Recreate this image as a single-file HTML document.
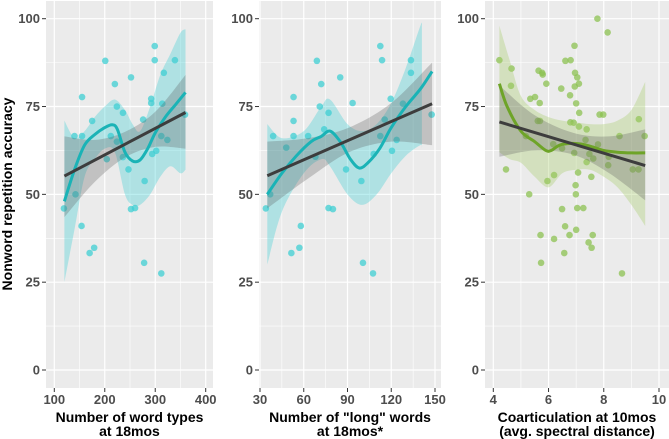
<!DOCTYPE html>
<html><head><meta charset="utf-8"><style>
html,body{margin:0;padding:0;background:#fff;}
svg{display:block;font-family:"Liberation Sans",Arial,sans-serif;}
.tick{font-size:13px;font-weight:bold;fill:#4d4d4d;}
.ttl{font-size:14px;font-weight:bold;fill:#000;}
</style></head><body>
<svg id="chart" width="669" height="439" viewBox="0 0 669 439" xmlns="http://www.w3.org/2000/svg"></svg>
<script>
// ---- Data ----
const yTicks=[0,25,50,75,100];
const p1Ticks=[100,200,300,400];
const p2Ticks=[30,60,90,120,150];
const p3Ticks=[4,6,8,10];
const p1X=[119,142,140,155,155,154,170,179,175,201,204,212,220,224,224,236,236,247,252,252,260,276,278,279,292,292,294,299,299,302,312,312,314,317,324,339,359];
const p1Y=[46,50,66.6,66.6,77.7,41,33.3,34.8,70.9,88,60,66.6,81.4,75,65,73.2,60.6,57.1,83.3,45.8,46.1,71.3,30.5,53.8,77.2,76,61.5,92.2,88.2,62.4,66.6,27.5,75.8,84.6,65.5,88.2,72.7];
const p2X=[34,37,39,48,51.5,53,53,53,57,58,63,68,69,71,72,74,77,77,80,85,89,93.5,99.5,100.6,107.5,108,112.5,112.5,113.7,115.5,119.6,120.5,123.7,128,133.5,133.5,147.7];
const p2Y=[46,50,66.6,63.3,33.3,70.9,77.7,66.6,34.8,41,66.6,60.7,88,75,81.4,68.5,73.2,46.1,45.8,83.3,57.1,76,53.8,30.5,27.5,61.5,92.2,66.6,88.2,71.3,77.2,62.4,65.5,75.8,84.6,88.2,72.7];
const p3X=[4.22,4.46,4.66,4.64,5.18,5.30,5.34,5.51,5.61,5.64,5.68,5.69,5.71,5.73,5.77,5.79,5.92,5.96,6.17,6.20,6.20,6.46,6.49,6.49,6.57,6.60,6.61,6.76,6.78,6.79,6.80,6.91,6.93,6.94,6.96,6.95,6.98,6.99,7.00,7.00,7.04,7.04,7.07,7.10,7.11,7.10,7.26,7.34,7.38,7.38,7.45,7.48,7.55,7.56,7.60,7.62,7.77,7.79,7.85,7.98,8.14,8.18,8.16,8.57,8.66,9.05,9.26,9.27,9.48];
const p3Y=[88.2,57.1,85.8,80.9,66.6,50,77.2,77.7,70.9,85.2,76,70.9,38.4,30.5,84.6,84.1,81.5,53.8,64.3,55.5,37.3,80.1,63.1,45.8,33.3,40.9,88,38.4,78.2,70.5,88.2,70.4,61.8,92.3,84.6,80.7,52.6,50,39.9,75.9,46.1,83.3,56.2,81.5,73.2,69.3,46.1,65.5,59.2,68.5,36.3,61.5,55,34.8,38.4,60.2,100,64.2,72.7,72.7,96.1,60.7,58.3,66.6,27.5,57.1,57.1,71.4,66.6];
// loess fits
const s1X=[120,140,160,180,200,215,225,240,255,270,285,300,320,340,360];
const s1Y=[48,57,64,67,69,69.8,68.5,62,59.5,59.8,63,67.5,72,75.5,79];
const b1X=[120,140,160,180,200,220,240,255,270,290,310,330,350,360];
const b1Hi=[71,66,68,72,75,77,74,70,68,75,84,90,96,97];
const b1Lo=[25,40,55,60,63,62,50,47,47,50,55,58,56,57];
const s2X=[35,45,55,65,72,78,85,92,98,104,112,120,130,140,148];
const s2Y=[50,56,61,65,66.5,68,65,60,57.5,59,63,69,75,80,85];
const b2X=[35,45,60,72,78,90,100,110,120,130,140,141];
const b2Hi=[70,66,68,75,77,70,68,70,76,86,98,98];
const b2Lo=[30,45,56,60,58,50,47,50,56,61,64,63];
const s3X=[4.22,4.5,5,5.5,5.9,6.1,6.4,6.8,7.2,7.6,8,8.5,9,9.5];
const s3Y=[81.5,75,68,65,62.5,62.5,64,64.5,64.3,63.5,62.5,62,61.8,61.8];
const b3X=[4.22,4.6,5,5.5,6,6.5,7,7.5,8,8.5,9,9.5];
const b3Hi=[98,88,78,74,72,71,70.5,70,70,71,74,82];
const b3Lo=[62,60,59,55,52,56,57,57,55,52,47,41];
// linear fits: x at start/mid/end, fitted y and CI
const l1X=[120,180,240,300,360], l1Y=[55.2,59.7,64.2,68.8,73.3], l1Lo=[43.5,53.5,60.5,63.5,63], l1Hi=[66.5,65.5,67.8,73.5,84];
const l2X=[35,63,91,120,148], l2Y=[55.3,60.4,65.5,70.7,75.8], l2Lo=[46,54.5,62,65,64], l2Hi=[65,66,69,76,87.5];
const l3X=[4.22,5.5,6.9,8.2,9.5], l3Y=[70.6,67.6,64.4,61.3,58.2], l3Lo=[60.7,62.5,61.3,56,48.3], l3Hi=[81,72.5,67.5,66.5,68.5];

const NS="http://www.w3.org/2000/svg";
const svg=document.getElementById('chart');
function mk(tag,attrs,parent){const e=document.createElementNS(NS,tag);for(const k in attrs)e.setAttribute(k,attrs[k]);(parent||svg).appendChild(e);return e;}
const Y=v=>370+(18.7-370)*v/100;
function smooth(pts,start){ // catmull-rom to bezier
  let d=(start?'M':'L')+pts[0][0]+','+pts[0][1];
  for(let i=0;i<pts.length-1;i++){
    const p0=pts[i-1]||pts[i],p1=pts[i],p2=pts[i+1],p3=pts[i+2]||p2;
    const c1=[p1[0]+(p2[0]-p0[0])/6,p1[1]+(p2[1]-p0[1])/6];
    const c2=[p2[0]-(p3[0]-p1[0])/6,p2[1]-(p3[1]-p1[1])/6];
    d+='C'+c1+' '+c2+' '+p2;
  }
  return d;
}
function panel(cfg){
  const g=mk('g',{});
  
  
  const X=v=>cfg.px0+(v-cfg.t0)*(cfg.px1-cfg.px0)/(cfg.t1-cfg.t0);
  const bg=mk('rect',{x:cfg.L,y:1,width:cfg.R-cfg.L,height:387,fill:'#ebebeb'},g);
  
  for(let i=0;i<yTicks.length-1;i++){const v=(yTicks[i]+yTicks[i+1])/2;mk('line',{x1:cfg.L,x2:cfg.R,y1:Y(v),y2:Y(v),stroke:'#fff','stroke-width':0.6},g);}
  for(let i=0;i<cfg.ticks.length-1;i++){const v=(cfg.ticks[i]+cfg.ticks[i+1])/2;mk('line',{x1:X(v),x2:X(v),y1:1,y2:388,stroke:'#fff','stroke-width':0.6},g);}
  yTicks.forEach(v=>{mk('line',{x1:cfg.L,x2:cfg.R,y1:Y(v),y2:Y(v),stroke:'#fff','stroke-width':1.2},g);
    mk('line',{x1:cfg.L-4,x2:cfg.L,y1:Y(v),y2:Y(v),stroke:'#333','stroke-width':1},g);
    const t=mk('text',{x:cfg.L-6,y:Y(v)+4.5,'text-anchor':'end',class:'tick'},g);t.textContent=v;
    });
  cfg.ticks.forEach(v=>{mk('line',{x1:X(v),x2:X(v),y1:1,y2:388,stroke:'#fff','stroke-width':1.2},g);
    mk('line',{x1:X(v),x2:X(v),y1:388,y2:392,stroke:'#333','stroke-width':1},g);
    const t=mk('text',{x:X(v),y:404,'text-anchor':'middle',class:'tick'},g);t.textContent=v;
    });
  cfg.xs.forEach((x,i)=>{const c=mk('circle',{cx:X(x),cy:Y(cfg.ys[i]),r:3.3,fill:cfg.pt,'fill-opacity':0.75},g);
    });
  const hi=cfg.bX.map((x,i)=>[X(x),Y(cfg.bHi[i])]);
  const lo=cfg.bX.map((x,i)=>[X(x),Y(cfg.bLo[i])]).reverse();
  const band=mk('path',{d:smooth(hi,true)+smooth(lo,false)+'Z',fill:cfg.band,'fill-opacity':0.35},g);
  
  const lhi=cfg.lX.map((x,i)=>[X(x),Y(cfg.lHi[i])]);
  const llo=cfg.lX.map((x,i)=>[X(x),Y(cfg.lLo[i])]).reverse();
  const lb=mk('path',{d:smooth(lhi,true)+smooth(llo,false)+'Z',fill:'#555','fill-opacity':0.28},g);
  
  const sl=mk('path',{d:smooth(cfg.sX.map((x,i)=>[X(x),Y(cfg.sY[i])]),true),fill:'none',stroke:cfg.line,'stroke-width':3,'stroke-linejoin':'round'},g);
  
  const n=cfg.lX.length-1;
  const ll=mk('line',{x1:X(cfg.lX[0]),y1:Y(cfg.lY[0]),x2:X(cfg.lX[n]),y2:Y(cfg.lY[n]),stroke:'#3d3d3d','stroke-width':3},g);
  
  cfg.title.forEach((s,i)=>{const t=mk('text',{x:(cfg.L+cfg.R)/2,y:422+i*14,'text-anchor':'middle',class:'ttl'},g);t.textContent=s;
    });
}
panel({name:'panel-word-types',L:46,R:213,px0:54.3,px1:205.7,t0:100,t1:400,ticks:p1Ticks,xs:p1X,ys:p1Y,pt:'#3fcfd3',band:'#3fcfd3',line:'#1ab3b6',
  bX:b1X,bHi:b1Hi,bLo:b1Lo,sX:s1X,sY:s1Y,lX:l1X,lY:l1Y,lLo:l1Lo,lHi:l1Hi,title:['Number of word types','at 18mos']});
panel({name:'panel-long-words',L:259,R:441,px0:260,px1:435,t0:30,t1:150,ticks:p2Ticks,xs:p2X,ys:p2Y,pt:'#3fcfd3',band:'#3fcfd3',line:'#1ab3b6',
  bX:b2X,bHi:b2Hi,bLo:b2Lo,sX:s2X,sY:s2Y,lX:l2X,lY:l2Y,lLo:l2Lo,lHi:l2Hi,title:['Number of "long" words','at 18mos*']});
panel({name:'panel-coarticulation',L:485,R:669,px0:493.3,px1:659,t0:4,t1:10,ticks:p3Ticks,xs:p3X,ys:p3Y,pt:'#8cc152',band:'#a5cc6b',line:'#6ea428',
  bX:b3X,bHi:b3Hi,bLo:b3Lo,sX:s3X,sY:s3Y,lX:l3X,lY:l3Y,lLo:l3Lo,lHi:l3Hi,title:['Coarticulation at 10mos','(avg. spectral distance)']});
const yt=mk('text',{x:0,y:0,transform:'translate(12,194) rotate(-90)','text-anchor':'middle',class:'ttl'});
yt.textContent='Nonword repetition accuracy';


</script>
</body></html>
